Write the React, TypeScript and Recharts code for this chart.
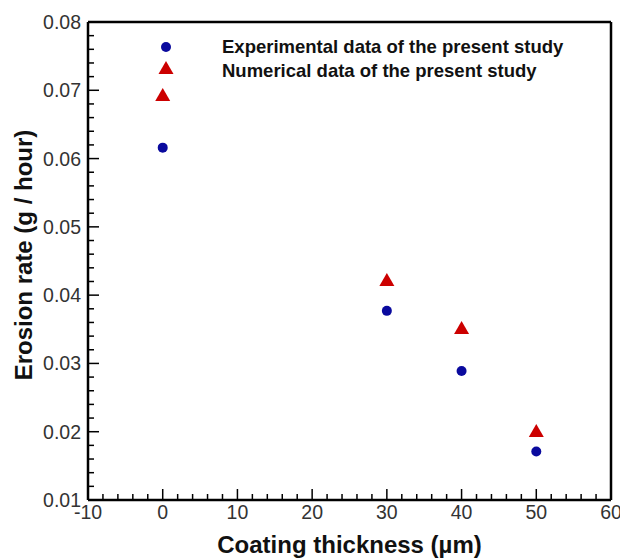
import React from 'react';
import { ScatterChart, Scatter, XAxis, YAxis, ReferenceLine } from 'recharts';

const thickness = [0, 30, 40, 50];
const experimental = [0.0616, 0.0377, 0.0289, 0.0171];
const numerical = [0.0693, 0.0422, 0.0352, 0.0201];
const seriesNames = ['Experimental data of the present study', 'Numerical data of the present study'];
const xTicks = [-10, -8, -6, -4, -2, 0, 2, 4, 6, 8, 10, 12, 14, 16, 18, 20, 22, 24, 26, 28, 30, 32, 34, 36, 38, 40, 42, 44, 46, 48, 50, 52, 54, 56, 58, 60];
const yTicks = [0.01, 0.012, 0.014, 0.016, 0.018, 0.02, 0.022, 0.024, 0.026, 0.028, 0.03, 0.032, 0.034, 0.036, 0.038, 0.04, 0.042, 0.044, 0.046, 0.048, 0.05, 0.052, 0.054, 0.056, 0.058, 0.06, 0.062, 0.064, 0.066, 0.068, 0.07, 0.072, 0.074, 0.076, 0.078, 0.08];

const expData = thickness.map((x, i) => ({ x, y: experimental[i] }));
const numData = thickness.map((x, i) => ({ x, y: numerical[i] }));

const FONT = '"Liberation Sans", Arial, Helvetica, sans-serif';
const BLUE = '#0a0a9e';
const RED = '#cc0000';

const isMajorX = (v: number) => v % 10 === 0;
const isMajorY = (v: number) => Math.abs(v * 100 - Math.round(v * 100)) < 1e-6;

const XTick = (props: any) => {
  const { x, y, payload } = props;
  const major = isMajorX(payload.value);
  return (
    <g>
      <line x1={x} y1={y} x2={x} y2={y - (major ? 11 : 6)} stroke="#000" strokeWidth={1.5} />
      {major && (
        <text x={x} y={y + 19} textAnchor="middle" fontSize={19.5} fill="#333" fontFamily={FONT}>
          {payload.value}
        </text>
      )}
    </g>
  );
};

const YTick = (props: any) => {
  const { x, y, payload } = props;
  const major = isMajorY(payload.value);
  return (
    <g>
      <line x1={x} y1={y} x2={x + (major ? 11 : 6)} y2={y} stroke="#000" strokeWidth={1.5} />
      {major && (
        <text x={x - 7} y={y + 7} textAnchor="end" fontSize={19.5} fill="#333" fontFamily={FONT}>
          {payload.value.toFixed(2)}
        </text>
      )}
    </g>
  );
};

const Circle = (props: any) => {
  const { cx, cy } = props;
  return <circle cx={cx} cy={cy} r={5} fill={BLUE} />;
};

const Triangle = (props: any) => {
  const { cx, cy } = props;
  return <polygon points={`${cx - 7.5},${cy + 6} ${cx + 7.5},${cy + 6} ${cx},${cy - 7}`} fill={RED} />;
};

const LegendOverlay = () => (
  <svg width={440} height={50} style={{ position: 'absolute', left: 155, top: 34, display: 'block' }}>
    <circle cx={11} cy={13} r={5} fill={BLUE} />
    <polygon points={`${3.5},${40} ${18.5},${40} ${11},${27}`} fill={RED} />
    <text x={67} y={19} fontSize={18.5} fontWeight="bold" fill="#111" fontFamily={FONT}>{seriesNames[0]}</text>
    <text x={67} y={42.5} fontSize={18.5} fontWeight="bold" fill="#111" fontFamily={FONT}>{seriesNames[1]}</text>
  </svg>
);

export default function App() {
  return (
    <div style={{ position: 'absolute', left: 0, top: 0, width: 620, height: 558, background: '#fff' }}>
      <ScatterChart width={620} height={558} margin={{ top: 22, right: 9, bottom: 0, left: 0 }}>
        <XAxis
          type="number"
          dataKey="x"
          domain={[-10, 60]}
          ticks={xTicks}
          interval={0}
          height={58}
          tickSize={0}
          tickMargin={0}
          tickLine={false}
          tick={<XTick />}
          axisLine={{ stroke: '#000', strokeWidth: 2.5 }}
          label={{
            content: (p: any) => {
              const vb = p.viewBox;
              return (
                <text x={vb.x + vb.width / 2} y={553} textAnchor="middle" fontSize={24} fontWeight="bold" fill="#111" fontFamily={FONT}>
                  Coating thickness (µm)
                </text>
              );
            },
          }}
        />
        <YAxis
          type="number"
          dataKey="y"
          domain={[0.01, 0.08]}
          ticks={yTicks}
          interval={0}
          width={88}
          tickSize={0}
          tickMargin={0}
          tickLine={false}
          tick={<YTick />}
          axisLine={{ stroke: '#000', strokeWidth: 2.5 }}
          label={{
            content: () => {
              const cy = 255;
              return (
                <text x={32} y={cy} transform={`rotate(-90 32 ${cy})`} textAnchor="middle" fontSize={24} fontWeight="bold" fill="#111" fontFamily={FONT}>
                  Erosion rate (g / hour)
                </text>
              );
            },
          }}
        />
        <ReferenceLine y={0.08} stroke="#000" strokeWidth={2.5} />
        <ReferenceLine x={60} stroke="#000" strokeWidth={2.5} />
        <Scatter name={seriesNames[0]} data={expData} shape={<Circle />} isAnimationActive={false} />
        <Scatter name={seriesNames[1]} data={numData} shape={<Triangle />} isAnimationActive={false} />
      </ScatterChart>
      <LegendOverlay />
    </div>
  );
}
